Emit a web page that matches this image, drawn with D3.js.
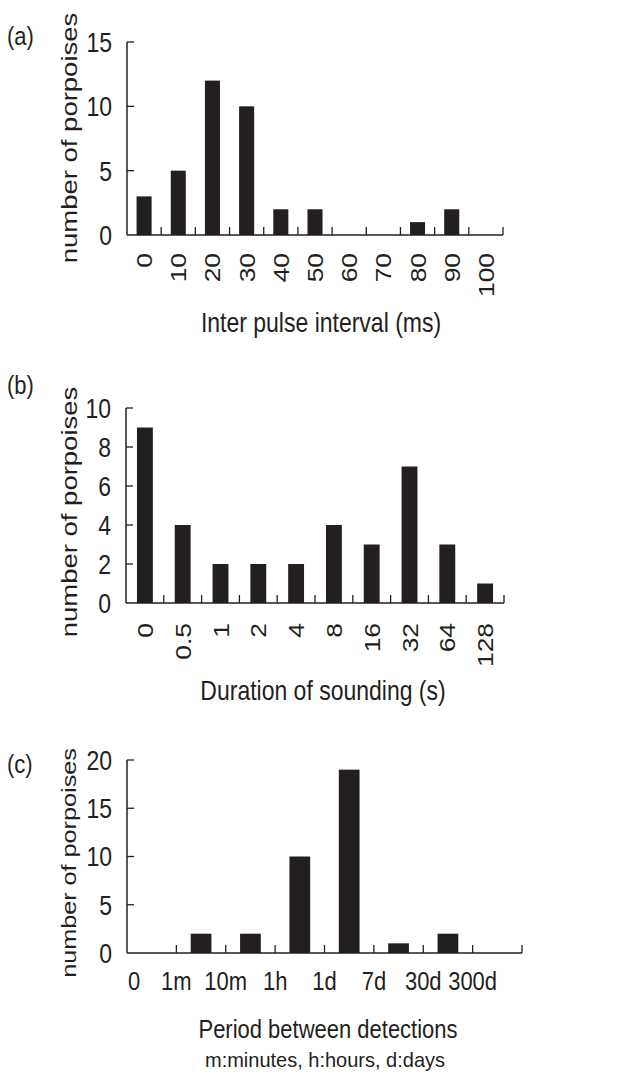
<!DOCTYPE html>
<html>
<head>
<meta charset="utf-8">
<script src="https://cdn.jsdelivr.net/npm/d3@7"></script>
<style>
  body { margin: 0; background: #fff; }
  svg text { font-family: "Liberation Sans", Arial, Helvetica, sans-serif; fill: #231f20; }
</style>
</head>
<body>
<script>
// panel (a) - inter pulse interval
const ipiCats = ["0", "10", "20", "30", "40", "50", "60", "70", "80", "90", "100"];
const ipiCounts = [3, 5, 12, 10, 2, 2, 0, 0, 1, 2, 0];
const ipiTicks = [0, 5, 10, 15];

// panel (b) - duration of sounding
const durCats = ["0", "0.5", "1", "2", "4", "8", "16", "32", "64", "128"];
const durCounts = [9, 4, 2, 2, 2, 4, 3, 7, 3, 1];
const durTicks = [0, 2, 4, 6, 8, 10];

// panel (c) - period between detections
const perCats = ["0-1m", "1m-10m", "10m-1h", "1h-1d", "1d-7d", "7d-30d", "30d-300d", "300d+"];
const perCounts = [0, 2, 2, 10, 19, 1, 2, 0];
const perTicks = [0, 5, 10, 15, 20];
const perEdgeLabels = ["0", "1m", "10m", "1h", "1d", "7d", "30d", "300d"];

const ink = "#231f20";
const width = 617, height = 1072;
// the original figure's lettering is a bit taller than wide
const stretch = 1.2;

const svg = d3.select("body").append("svg")
  .attr("width", width)
  .attr("height", height);

// text placed at (x, y), optionally rotated, stretched vertically
function label(parent, x, y, str, size, anchor, rot, s) {
  const sc = s || stretch;
  return parent.append("text")
    .attr("transform", `translate(${x},${y}) scale(1,${sc})` + (rot ? " rotate(-90)" : ""))
    .attr("text-anchor", anchor || "start")
    .attr("font-size", size)
    .text(str);
}

function drawPanel(o) {
  const g = svg.append("g");
  const n = o.cats.length;

  const x = d3.scaleBand()
    .domain(o.cats)
    .range([o.x0, o.x1])
    .paddingInner(o.pad)
    .paddingOuter(o.pad / 2);
  // edges between the bins
  const edge = d3.scaleLinear().domain([0, n]).range([o.x0, o.x1]);
  const y = d3.scaleLinear().domain([0, o.ymax]).range([o.yBase, o.yTop]);

  // bars
  g.selectAll("rect.bar")
    .data(o.counts)
    .join("rect")
    .attr("class", "bar")
    .attr("x", (d, i) => x(o.cats[i]))
    .attr("width", x.bandwidth())
    .attr("y", d => y(d))
    .attr("height", d => y(0) - y(d))
    .attr("fill", ink);

  // y axis line + inward ticks
  g.append("line")
    .attr("x1", o.x0).attr("x2", o.x0)
    .attr("y1", y(0)).attr("y2", y(o.ymax))
    .attr("stroke", ink).attr("stroke-width", 1.5);
  g.selectAll("line.yt")
    .data(o.yticks.filter(t => t > 0))
    .join("line")
    .attr("class", "yt")
    .attr("x1", o.x0).attr("x2", o.x0 + 7)
    .attr("y1", d => y(d)).attr("y2", d => y(d))
    .attr("stroke", ink).attr("stroke-width", 1.3);
  o.yticks.forEach(t => {
    label(g, o.x0 - 15, y(t) + 0.358 * 23 * stretch, t, 23, "end");
  });

  // x axis line + inward ticks at bin edges
  g.append("line")
    .attr("x1", o.x0).attr("x2", o.x1)
    .attr("y1", y(0)).attr("y2", y(0))
    .attr("stroke", ink).attr("stroke-width", 1.5);
  g.selectAll("line.xt")
    .data(d3.range(1, n + 1))
    .join("line")
    .attr("class", "xt")
    .attr("x1", d => edge(d)).attr("x2", d => edge(d))
    .attr("y1", y(0)).attr("y2", y(0) - 8)
    .attr("stroke", ink).attr("stroke-width", 1.3);

  // y title
  label(g, o.ytitleX, o.ytitleY, "number of porpoises", o.ytitleSize, "middle", true, o.ytitleStretch);

  // panel letter
  label(g, 7, o.letterY, o.letter, 22, "start");

  return { g, x, edge, y };
}

// (a)
const a = drawPanel({
  cats: ipiCats, counts: ipiCounts, yticks: ipiTicks, ymax: 15,
  x0: 127, x1: 503, yTop: 42, yBase: 235, pad: 0.56,
  ytitleX: 77, ytitleY: 138, ytitleSize: 22, ytitleStretch: 1.25, letter: "(a)", letterY: 45
});
ipiCats.forEach(d => {
  label(a.g, a.x(d) + a.x.bandwidth() / 2 + 8, 253, d, 22, "end", true);
});
label(a.g, 321, 332, "Inter pulse interval (ms)", 23, "middle");

// (b)
const b = drawPanel({
  cats: durCats, counts: durCounts, yticks: durTicks, ymax: 10,
  x0: 126, x1: 504, yTop: 408, yBase: 603, pad: 0.58,
  ytitleX: 77, ytitleY: 512, ytitleSize: 22, ytitleStretch: 1.25, letter: "(b)", letterY: 394
});
durCats.forEach(d => {
  label(b.g, b.x(d) + b.x.bandwidth() / 2 + 8, 623, d, 22, "end", true);
});
label(b.g, 323, 700, "Duration of sounding (s)", 23, "middle");

// (c)
const c = drawPanel({
  cats: perCats, counts: perCounts, yticks: perTicks, ymax: 20,
  x0: 127, x1: 522, yTop: 760, yBase: 953, pad: 0.58,
  ytitleX: 76, ytitleY: 863, ytitleSize: 21, ytitleStretch: 1.2, letter: "(c)", letterY: 773
});
perEdgeLabels.forEach((d, i) => {
  label(c.g, c.edge(i) + (i === 0 ? 7 : 0), 990, d, 22, "middle");
});
label(c.g, 328, 1038, "Period between detections", 22, "middle");
label(c.g, 325, 1067, "m:minutes, h:hours, d:days", 20, "middle", false, 1.05);
</script>
</body>
</html>
